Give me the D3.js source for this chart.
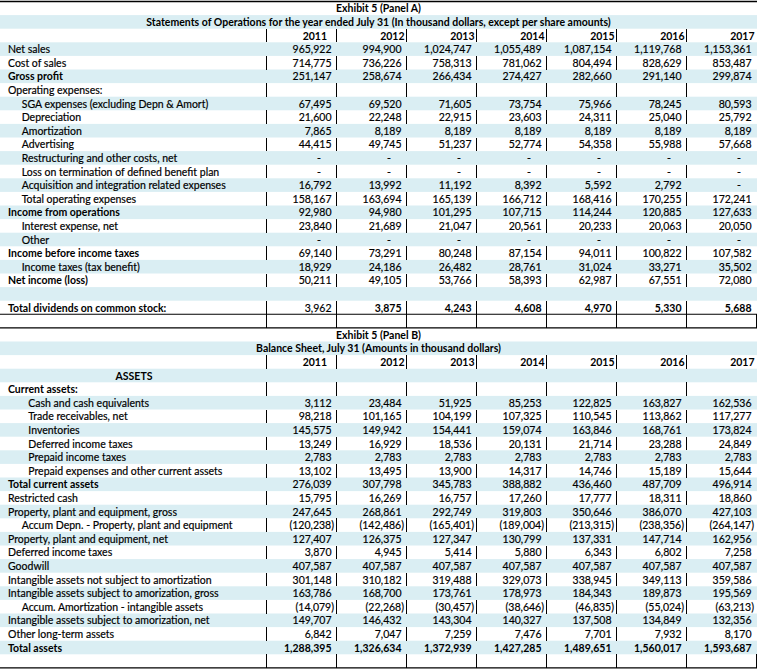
<!DOCTYPE html>
<html><head><meta charset="utf-8">
<script src="https://cdn.jsdelivr.net/npm/d3@7"></script>
<style>
html,body{margin:0;padding:0;background:#fff;}
svg{display:block;}
text{font-family:Lato,"Open Sans",sans-serif;font-size:10.5px;fill:#000;stroke:#000;stroke-width:0.18px;}
text[font-weight="bold"]{stroke-width:0;}
</style></head><body>
<svg id="chart" width="757" height="670"></svg>
<script>
// ---------- DATA ----------
const years = ["2011","2012","2013","2014","2015","2016","2017"];

const titleA = "Exhibit 5 (Panel A)";
const subtitleA = "Statements of Operations for the year ended July 31 (In thousand dollars, except per share amounts)";
const titleB = "Exhibit 5 (Panel B)";
const subtitleB = "Balance Sheet, July 31 (Amounts in thousand dollars)";

// Panel A – Statements of Operations
const netSales        = [965922, 994900, 1024747, 1055489, 1087154, 1119768, 1153361];
const costOfSales     = [714775, 736226, 758313, 781062, 804494, 828629, 853487];
const grossProfit     = [251147, 258674, 266434, 274427, 282660, 291140, 299874];
const sgaExpenses     = [67495, 69520, 71605, 73754, 75966, 78245, 80593];
const depreciation    = [21600, 22248, 22915, 23603, 24311, 25040, 25792];
const amortization    = [7865, 8189, 8189, 8189, 8189, 8189, 8189];
const advertising     = [44415, 49745, 51237, 52774, 54358, 55988, 57668];
const restructuring   = [0, 0, 0, 0, 0, 0, 0];
const lossTermination = [0, 0, 0, 0, 0, 0, 0];
const acquisition     = [16792, 13992, 11192, 8392, 5592, 2792, 0];
const totalOpex       = [158167, 163694, 165139, 166712, 168416, 170255, 172241];
const incomeOps       = [92980, 94980, 101295, 107715, 114244, 120885, 127633];
const interestExp     = [23840, 21689, 21047, 20561, 20233, 20063, 20050];
const otherExp        = [0, 0, 0, 0, 0, 0, 0];
const incomeBeforeTax = [69140, 73291, 80248, 87154, 94011, 100822, 107582];
const incomeTaxes     = [18929, 24186, 26482, 28761, 31024, 33271, 35502];
const netIncome       = [50211, 49105, 53766, 58393, 62987, 67551, 72080];
const dividends       = [3962, 3875, 4243, 4608, 4970, 5330, 5688];

// Panel B – Balance Sheet
const cash            = [3112, 23484, 51925, 85253, 122825, 163827, 162536];
const receivables     = [98218, 101165, 104199, 107325, 110545, 113862, 117277];
const inventories     = [145575, 149942, 154441, 159074, 163846, 168761, 173824];
const deferredTaxCur  = [13249, 16929, 18536, 20131, 21714, 23288, 24849];
const prepaidTaxes    = [2783, 2783, 2783, 2783, 2783, 2783, 2783];
const prepaidOther    = [13102, 13495, 13900, 14317, 14746, 15189, 15644];
const totalCurrent    = [276039, 307798, 345783, 388882, 436460, 487709, 496914];
const restrictedCash  = [15795, 16269, 16757, 17260, 17777, 18311, 18860];
const ppeGross        = [247645, 268861, 292749, 319803, 350646, 386070, 427103];
const accumDepn       = [-120238, -142486, -165401, -189004, -213315, -238356, -264147];
const ppeNet          = [127407, 126375, 127347, 130799, 137331, 147714, 162956];
const deferredTaxLT   = [3870, 4945, 5414, 5880, 6343, 6802, 7258];
const goodwill        = [407587, 407587, 407587, 407587, 407587, 407587, 407587];
const intangNotAmort  = [301148, 310182, 319488, 329073, 338945, 349113, 359586];
const intangGross     = [163786, 168700, 173761, 178973, 184343, 189873, 195569];
const accumAmort      = [-14079, -22268, -30457, -38646, -46835, -55024, -63213];
const intangNet       = [149707, 146432, 143304, 140327, 137508, 134849, 132356];
const otherLT         = [6842, 7047, 7259, 7476, 7701, 7932, 8170];
const totalAssets     = [1288395, 1326634, 1372939, 1427285, 1489651, 1560017, 1593687];

// ---------- TABLE STRUCTURE ----------
// kind: title | sub | years | data | blank | gap | section
const rows = [
  {kind:"title", text:titleA},
  {kind:"sub", text:subtitleA},
  {kind:"years"},
  {kind:"data", label:"Net sales", ind:0, v:netSales},
  {kind:"data", label:"Cost of sales", ind:0, v:costOfSales},
  {kind:"data", label:"Gross profit", ind:0, bold:true, v:grossProfit},
  {kind:"data", label:"Operating expenses:", ind:0},
  {kind:"data", label:"SGA expenses (excluding Depn & Amort)", ind:1, v:sgaExpenses},
  {kind:"data", label:"Depreciation", ind:1, v:depreciation},
  {kind:"data", label:"Amortization", ind:1, v:amortization},
  {kind:"data", label:"Advertising", ind:1, v:advertising},
  {kind:"data", label:"Restructuring and other costs, net", ind:1, v:restructuring},
  {kind:"data", label:"Loss on termination of defined benefit plan", ind:1, v:lossTermination},
  {kind:"data", label:"Acquisition and integration related expenses", ind:1, v:acquisition},
  {kind:"data", label:"Total operating expenses", ind:1, v:totalOpex},
  {kind:"data", label:"Income from operations", ind:0, bold:true, v:incomeOps},
  {kind:"data", label:"Interest expense, net", ind:1, v:interestExp},
  {kind:"data", label:"Other", ind:1, v:otherExp},
  {kind:"data", label:"Income before income taxes", ind:0, bold:true, v:incomeBeforeTax},
  {kind:"data", label:"Income taxes (tax benefit)", ind:1, v:incomeTaxes},
  {kind:"data", label:"Net income (loss)", ind:0, bold:true, v:netIncome},
  {kind:"blank"},
  {kind:"data", label:"Total dividends on common stock:", ind:0, bold:true, v:dividends, vbold:[false,true,true,true,true,true,true]},
  {kind:"gap"},
  {kind:"title", text:titleB},
  {kind:"sub", text:subtitleB},
  {kind:"years"},
  {kind:"section", text:"ASSETS"},
  {kind:"data", label:"Current assets:", ind:0, bold:true},
  {kind:"data", label:"Cash and cash equivalents", ind:2, v:cash},
  {kind:"data", label:"Trade receivables, net", ind:2, v:receivables},
  {kind:"data", label:"Inventories", ind:2, v:inventories},
  {kind:"data", label:"Deferred income taxes", ind:2, v:deferredTaxCur},
  {kind:"data", label:"Prepaid income taxes", ind:2, v:prepaidTaxes},
  {kind:"data", label:"Prepaid expenses and other current assets", ind:2, v:prepaidOther},
  {kind:"data", label:"Total current assets", ind:0, bold:true, v:totalCurrent},
  {kind:"data", label:"Restricted cash", ind:0, v:restrictedCash},
  {kind:"data", label:"Property, plant and equipment, gross", ind:0, v:ppeGross},
  {kind:"data", label:"Accum Depn. - Property, plant and equipment", ind:1, v:accumDepn},
  {kind:"data", label:"Property, plant and equipment, net", ind:0, v:ppeNet},
  {kind:"data", label:"Deferred income taxes", ind:0, v:deferredTaxLT},
  {kind:"data", label:"Goodwill", ind:0, v:goodwill},
  {kind:"data", label:"Intangible assets not subject to amortization", ind:0, v:intangNotAmort},
  {kind:"data", label:"Intangible assets subject to amorization, gross", ind:0, v:intangGross},
  {kind:"data", label:"Accum. Amortization - intangible assets", ind:1, v:accumAmort},
  {kind:"data", label:"Intangible assets subject to amorization, net", ind:0, v:intangNet},
  {kind:"data", label:"Other long-term assets", ind:0, v:otherLT},
  {kind:"data", label:"Total assets", ind:0, bold:true, v:totalAssets, vbold:[true,true,true,true,true,true,true]},
  {kind:"blank"}
];
rows.forEach((r,i)=>r.i=i);

// ---------- LAYOUT ----------
const W = 757, H = 670;
const svg = d3.select("#chart");
const y = d3.scaleLinear().domain([0, rows.length]).range([1.5, 1.5 + rows.length*13.6]);
const x = d3.scaleBand().domain(years).range([267, 757]);
const rowH = y(1) - y(0);
const blue = "#DAEEF3";
const indentX = [8, 21.7, 28.3];
const fmt = d3.format(",");

const isBlue = r => (r.i % 2 === 1) && r.kind !== "gap";
const hasBars = r => !isBlue(r) && r.kind !== "title";

// backgrounds
svg.append("g").selectAll("rect").data(rows.filter(isBlue)).join("rect")
  .attr("x", 0).attr("width", W)
  .attr("y", d => y(d.i)).attr("height", rowH)
  .attr("fill", blue);

// vertical bars
const barRows = rows.filter(hasBars);
const edges = [x.range()[0]].concat(years.slice(0, -1).map(yr => x(yr) + x.bandwidth()));
const gBars = svg.append("g").attr("stroke", "#000").attr("stroke-width", 1).attr("shape-rendering","crispEdges");
barRows.forEach(r => {
  const ee = (r.kind === "gap" || (r.kind === "blank" && r.i > 24)) ? edges.concat([x.range()[1]]) : edges;
  gBars.selectAll(null).data(ee).join("line")
    .attr("x1", e => Math.round(e) - 0.5).attr("x2", e => Math.round(e) - 0.5)
    .attr("y1", y(r.i)).attr("y2", y(r.i + 1));
});

// horizontal rules
const gap = rows.find(r => r.kind === "gap").i;
const hRules = [0, gap, gap + 1, rows.length];
svg.append("g").selectAll("line").data(hRules).join("line")
  .attr("x1", 0).attr("x2", W)
  .attr("y1", d => y(d)).attr("y2", d => y(d))
  .attr("stroke", "#000").attr("stroke-width", (d,i) => i === 0 ? 1.6 : 1.1);

const base = i => y(i) + 10.8;

// titles
svg.append("g").selectAll("text").data(rows.filter(r => r.kind === "title" || r.kind === "sub")).join("text")
  .attr("x", W/2).attr("y", d => base(d.i)).attr("text-anchor", "middle")
  .attr("font-weight", "bold").text(d => d.text);

// section header
svg.append("g").selectAll("text").data(rows.filter(r => r.kind === "section")).join("text")
  .attr("x", 134).attr("y", d => base(d.i)).attr("text-anchor", "middle")
  .attr("font-weight", "bold").text(d => d.text);

// year headers
rows.filter(r => r.kind === "years").forEach(r => {
  svg.append("g").selectAll("text").data(years).join("text")
    .attr("x", (d,k) => x(d) + x.bandwidth() - (k === 0 ? 10 : 2.5))
    .attr("y", base(r.i)).attr("text-anchor", "end")
    .attr("font-weight", "bold").text(d => d);
});

// labels
const dataRows = rows.filter(r => r.kind === "data");
svg.append("g").selectAll("text").data(dataRows).join("text")
  .attr("x", d => indentX[d.ind]).attr("y", d => base(d.i))
  .attr("font-weight", d => d.bold ? "bold" : null)
  .text(d => d.label);

// values
const cells = [];
dataRows.filter(r => r.v).forEach(r => r.v.forEach((v,k) => cells.push({r, v, k, yr: years[k]})));
svg.append("g").selectAll("text").data(cells).join("text")
  .attr("x", d => {
    const right = x(d.yr) + x.bandwidth();
    if (d.v === 0) return right - 18;
    if (d.v < 0) return right - 3;
    return right - 5.5;
  })
  .attr("y", d => base(d.r.i))
  .attr("text-anchor", d => d.v === 0 ? "middle" : "end")
  .attr("font-weight", d => (d.r.vbold && d.r.vbold[d.k]) ? "bold" : null)
  .text(d => d.v === 0 ? "-" : d.v < 0 ? "(" + fmt(-d.v) + ")" : fmt(d.v));
</script>
</body></html>
